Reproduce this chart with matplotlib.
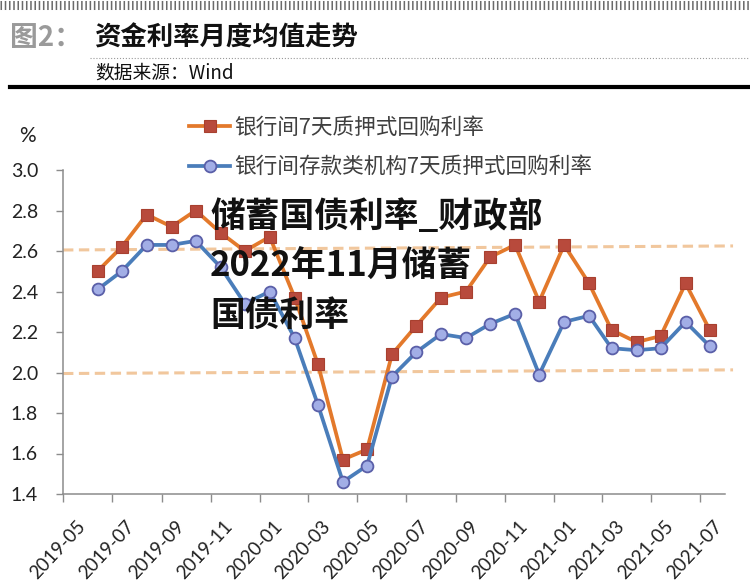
import numpy as np
import pandas as pd
import matplotlib
matplotlib.use("Agg")
import matplotlib.pyplot as plt
import matplotlib.transforms as mtransforms
from matplotlib.lines import Line2D

plt.rcParams['font.family'] = ['Lato', 'Noto Sans CJK SC', 'DejaVu Sans']
cjk = ['Noto Sans CJK SC', 'DejaVu Sans']

# dati mensili (medie)
mesi = ['2019-06', '2019-07', '2019-08', '2019-09', '2019-10', '2019-11', '2019-12',
        '2020-01', '2020-02', '2020-03', '2020-04', '2020-05', '2020-06', '2020-07',
        '2020-08', '2020-09', '2020-10', '2020-11', '2020-12', '2021-01', '2021-02',
        '2021-03', '2021-04', '2021-05', '2021-06', '2021-07']
r007 = [2.50, 2.62, 2.78, 2.72, 2.80, 2.69, 2.60, 2.67, 2.37, 2.04, 1.57, 1.62, 2.09,
        2.23, 2.37, 2.40, 2.57, 2.63, 2.35, 2.63, 2.44, 2.21, 2.15, 2.18, 2.44, 2.21]
dr007 = [2.41, 2.50, 2.63, 2.63, 2.65, 2.52, 2.34, 2.40, 2.17, 1.84, 1.46, 1.54, 1.98,
         2.10, 2.19, 2.17, 2.24, 2.29, 1.99, 2.25, 2.28, 2.12, 2.11, 2.12, 2.25, 2.13]
trend_alto = [2.605, 2.625]
trend_basso = [1.995, 2.013]
tick_mesi = ['2019-05', '2019-07', '2019-09', '2019-11', '2020-01', '2020-03', '2020-05',
             '2020-07', '2020-09', '2020-11', '2021-01', '2021-03', '2021-05', '2021-07']

W, H = 750, 588
fig = plt.figure(figsize=(7.5, 5.88), dpi=100)

def fx(px):
    return px / W

def fy(py):
    return 1 - py / H

ax = fig.add_axes([fx(63), fy(494), fx(725) - fx(63), fy(170) - fy(494)])

x = pd.to_datetime(mesi) + pd.Timedelta(days=12)
x0 = pd.Timestamp('2019-05-01')
x1 = pd.Timestamp('2021-08-01')

# linee tratteggiate di riferimento
for tr in (trend_alto, trend_basso):
    ax.plot([x0, x1 + pd.Timedelta(days=10)], tr, color='#F1C79D', lw=2.2,
            dashes=(3.4, 1.8), clip_on=False, zorder=2)

ax.plot(x, r007, color='#E3792B', lw=2.7, marker='s', ms=8.5, mfc='#B84A3C',
        mec='#A8402F', mew=0.8, label='银行间7天质押式回购利率', zorder=3)
ax.plot(x, dr007, color='#4A7DBA', lw=2.7, marker='o', ms=8.5, mfc='#A2AEE6',
        mec='#5A5FA8', mew=1.3, label='银行间存款类机构7天质押式回购利率', zorder=4)

ax.set_xlim(x0, x1)
ax.set_ylim(1.4, 3.0)
ax.set_yticks(np.arange(1.4, 3.01, 0.2))
ax.set_yticklabels([f'{v:.1f}' for v in np.arange(1.4, 3.01, 0.2)])
ax.set_xticks(pd.to_datetime(tick_mesi))
ax.set_xticklabels(tick_mesi)

for s in ['top', 'right']:
    ax.spines[s].set_visible(False)
for s in ['left', 'bottom']:
    ax.spines[s].set_color('#8C8C8C')
    ax.spines[s].set_linewidth(1.1)

ax.tick_params(axis='y', length=5, width=1, color='#8C8C8C', pad=13,
               labelsize=14, labelcolor='#222222')
ax.tick_params(axis='x', length=6, width=1, color='#8C8C8C', pad=15,
               labelsize=13.5, labelcolor='#222222')
offset = mtransforms.ScaledTranslation(0.19, 0, fig.dpi_scale_trans)
for lbl in ax.get_xticklabels():
    lbl.set_rotation(47)
    lbl.set_ha('right')
    lbl.set_va('center')
    lbl.set_rotation_mode('anchor')
    lbl.set_transform(lbl.get_transform() + offset)

leg = ax.legend(loc='upper left', bbox_to_anchor=(fx(189), fy(117)),
                bbox_transform=fig.transFigure, frameon=False, borderpad=0,
                borderaxespad=0, handlelength=1.9, handletextpad=0.2,
                labelspacing=0.8, prop={'family': cjk, 'size': 15.6})
for t in leg.get_texts():
    t.set_color('#404040')

fig.text(fx(27), fy(136), '%', ha='center', va='center', fontsize=15, color='#222222')

# intestazione
fig.add_artist(Line2D([0, 1], [fy(5), fy(5)], transform=fig.transFigure, lw=6.5,
                      color='#6A6A6A', dashes=(0.17, 0.3)))
fig.text(fx(10), fy(38), '图2：', fontsize=20, weight='bold', color='#9A9A9A',
         va='center', family=cjk)
fig.text(fx(94), fy(38), '资金利率月度均值走势', fontsize=19, weight='bold',
         color='#111111', va='center', family=cjk)
fig.add_artist(Line2D([fx(90), 1], [fy(58), fy(58)], transform=fig.transFigure,
                      lw=0.8, color='#999999', ls=':'))
fig.text(fx(95), fy(73), '数据来源：Wind', fontsize=13.5, color='#111111',
         va='center', family=cjk)
fig.add_artist(Line2D([fx(10), 1], [fy(87), fy(87)], transform=fig.transFigure,
                      lw=3, color='#000000'))

# testo sovrapposto
fig.text(fx(210), fy(266), '储蓄国债利率_财政部\n2022年11月储蓄\n国债利率',
         fontsize=25, weight='bold', color='#111111', ha='left', va='center',
         linespacing=1.52, family=cjk, zorder=10)

fig.savefig('out.png', dpi=100)
